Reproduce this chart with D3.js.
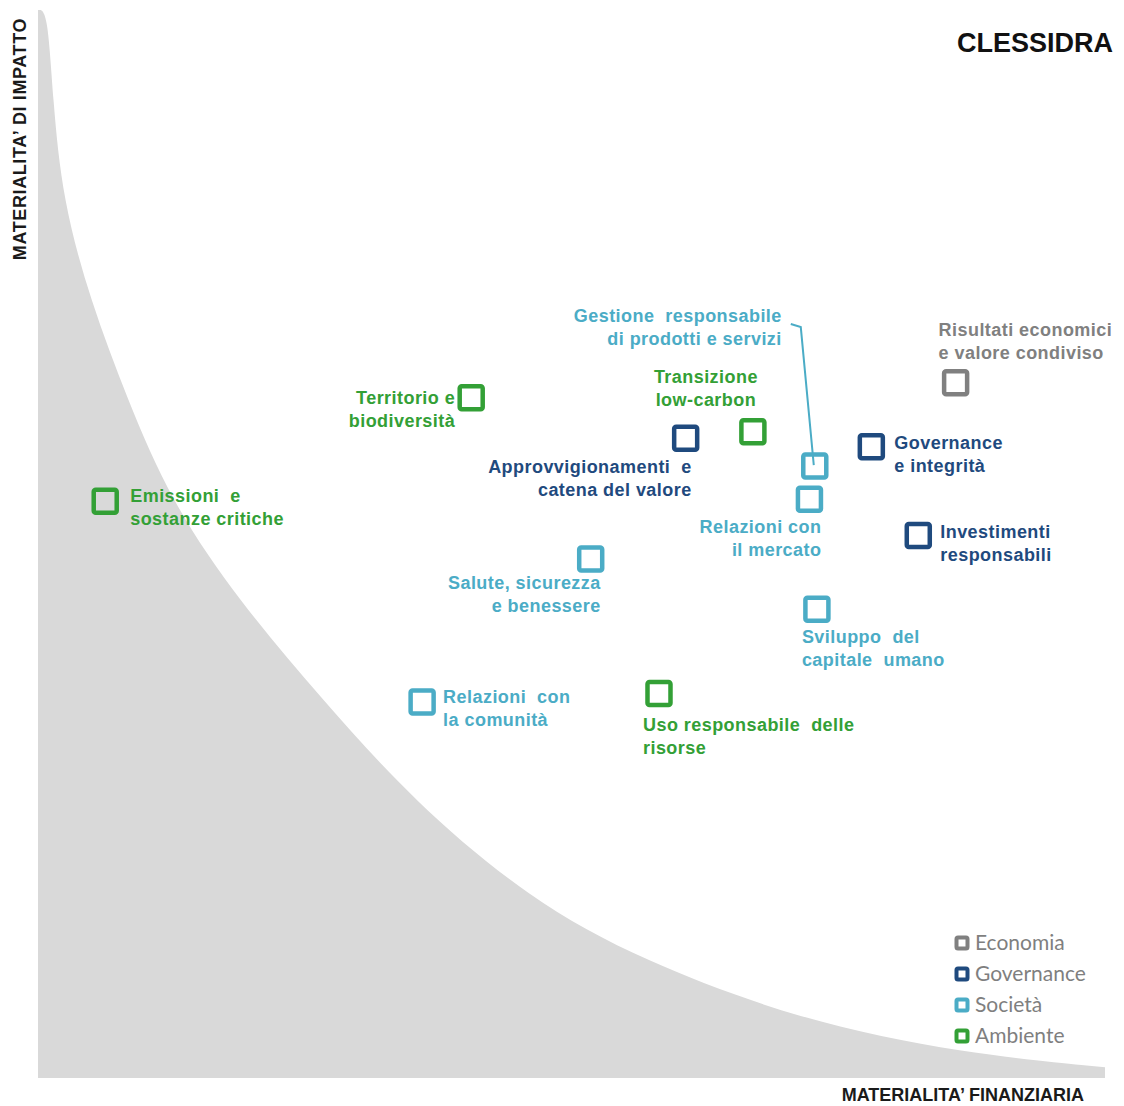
<!DOCTYPE html>
<html>
<head>
<meta charset="utf-8">
<script src="https://cdn.jsdelivr.net/npm/d3@7"></script>
<style>
  body { margin: 0; background: #fff; }
  svg { display: block; }
  .lbl { font-family: "Liberation Sans", Arial, sans-serif; font-weight: bold; font-size: 18px; letter-spacing: 0.45px; }
</style>
</head>
<body>
<div id="chart"></div>
<script>
const width = 1124;
const height = 1106;

// topics: financial materiality (x) and impact materiality (y), 0-100
const topics = [
  "Risultati economici e valore condiviso",
  "Governance e integrità",
  "Investimenti responsabili",
  "Approvvigionamenti e catena del valore",
  "Transizione low-carbon",
  "Territorio e biodiversità",
  "Emissioni e sostanze critiche",
  "Uso responsabile delle risorse",
  "Gestione responsabile di prodotti e servizi",
  "Relazioni con il mercato",
  "Salute, sicurezza e benessere",
  "Sviluppo del capitale umano",
  "Relazioni con la comunità"
];
const topicArea = ["Economia", "Governance", "Governance", "Governance", "Ambiente", "Ambiente",
  "Ambiente", "Ambiente", "Società", "Società", "Società", "Società", "Società"];
const financial = [86.0, 78.1, 82.5, 60.7, 67.0, 40.6, 6.3, 58.2, 72.8, 72.3, 51.8, 73.0, 36.0];
const impact    = [65.1, 59.1, 50.8, 59.9, 60.5, 63.7, 54.0, 36.0, 57.3, 54.2, 48.6, 43.9, 35.2];

// hourglass threshold curve
const curveX = [0, 0.9, 1.4, 2.3, 4.9, 8.4, 12.4, 18.7, 26.7, 35.1, 46.1, 56.6, 71.4, 86.7, 100];
const curveY = [100, 100, 91.6, 82.2, 72.8, 63.5, 54.1, 44.8, 35.4, 26.0, 16.7, 11.0, 5.4, 2.3, 1.0];

const areas = ["Economia", "Governance", "Società", "Ambiente"];
const areaColors = ["#808080", "#1f4a7e", "#4bacc6", "#33a036"];

// label layout: text lines, offset from marker, anchor
const labelLayout = {
  "Risultati economici e valore condiviso": { lines: ["Risultati economici", "e valore condiviso"], dx: -17, dy: -47, anchor: "start" },
  "Governance e integrità": { lines: ["Governance", "e integrità"], dx: 23, dy: 2, anchor: "start" },
  "Investimenti responsabili": { lines: ["Investimenti", "responsabili"], dx: 22, dy: 3, anchor: "start" },
  "Approvvigionamenti e catena del valore": { lines: ["Approvvigionamenti  e", "catena del valore"], dx: 6, dy: 35, anchor: "end" },
  "Transizione low-carbon": { lines: ["Transizione", "low-carbon"], dx: -47, dy: -49, anchor: "middle" },
  "Territorio e biodiversità": { lines: ["Territorio e", "biodiversità"], dx: -16, dy: 6, anchor: "end" },
  "Emissioni e sostanze critiche": { lines: ["Emissioni  e", "sostanze critiche"], dx: 25, dy: 1, anchor: "start" },
  "Uso responsabile delle risorse": { lines: ["Uso responsabile  delle", "risorse"], dx: -16, dy: 37, anchor: "start" },
  "Gestione responsabile di prodotti e servizi": { lines: ["Gestione  responsabile", "di prodotti e servizi"], dx: -33, dy: -144, anchor: "end", leader: true },
  "Relazioni con il mercato": { lines: ["Relazioni con", "il mercato"], dx: 12, dy: 34, anchor: "end" },
  "Salute, sicurezza e benessere": { lines: ["Salute, sicurezza", "e benessere"], dx: 10, dy: 30, anchor: "end" },
  "Sviluppo del capitale umano": { lines: ["Sviluppo  del", "capitale  umano"], dx: -15, dy: 34, anchor: "start" },
  "Relazioni con la comunità": { lines: ["Relazioni  con", "la comunità"], dx: 21, dy: 1, anchor: "start" }
};

const svg = d3.select("#chart")
  .append("svg")
  .attr("width", width)
  .attr("height", height);

const x = d3.scaleLinear().domain([0, 100]).range([38, 1105]);
const y = d3.scaleLinear().domain([0, 100]).range([1078, 10]);
const color = d3.scaleOrdinal().domain(areas).range(areaColors);

// grey area below the curve
const curvePts = curveX.map((v, i) => [v, curveY[i]]);
const area = d3.area()
  .x(d => x(d[0]))
  .y0(y(0))
  .y1(d => y(d[1]))
  .curve(d3.curveBasis);

svg.append("path")
  .datum(curvePts)
  .attr("d", area)
  .attr("fill", "#d9d9d9");

// axis titles
svg.append("text")
  .attr("class", "lbl")
  .attr("transform", `translate(26, ${y(100) + 8}) rotate(-90)`)
  .attr("text-anchor", "end")
  .attr("font-size", 16)
  .style("letter-spacing", "0.6px")
  .attr("fill", "#1a1a1a")
  .text("MATERIALITA’  DI  IMPATTO");

svg.append("text")
  .attr("class", "lbl")
  .attr("x", 1084)
  .attr("y", 1101)
  .attr("text-anchor", "end")
  .attr("font-size", 15)
  .style("letter-spacing", "0px")
  .attr("fill", "#1a1a1a")
  .text("MATERIALITA’  FINANZIARIA");

// title
svg.append("text")
  .attr("x", 1113)
  .attr("y", 52)
  .attr("text-anchor", "end")
  .attr("font-family", "Liberation Sans, Arial, sans-serif")
  .attr("font-weight", "bold")
  .attr("font-size", 27)
  .attr("fill", "#111")
  .text("CLESSIDRA");

const data = topics.map((t, i) => ({
  name: t, area: topicArea[i], fx: financial[i], iy: impact[i]
}));

// leader line for "Gestione responsabile..."
data.filter(d => labelLayout[d.name].leader).forEach(d => {
  const cx = x(d.fx), cy = y(d.iy), L = labelLayout[d.name];
  svg.append("path")
    .attr("d", d3.line()([[cx + L.dx + 9, cy + L.dy + 2], [cx + L.dx + 19, cy + L.dy + 5], [cx - 1, cy - 1]]))
    .attr("fill", "none")
    .attr("stroke", color(d.area))
    .attr("stroke-width", 2);
});

// markers
svg.selectAll("rect.marker")
  .data(data)
  .enter()
  .append("rect")
  .attr("class", "marker")
  .attr("x", d => x(d.fx) - 11.5)
  .attr("y", d => y(d.iy) - 11.5)
  .attr("width", 23)
  .attr("height", 23)
  .attr("rx", 2)
  .attr("fill", "none")
  .attr("stroke", d => color(d.area))
  .attr("stroke-width", 4.5);

// labels
const labels = svg.selectAll("text.topic")
  .data(data)
  .enter()
  .append("text")
  .attr("class", "lbl topic")
  .attr("fill", d => color(d.area))
  .attr("text-anchor", d => labelLayout[d.name].anchor)
  .attr("xml:space", "preserve")
  .style("white-space", "pre");

labels.selectAll("tspan")
  .data(d => labelLayout[d.name].lines.map((l, k) => ({ l, k, d })))
  .enter()
  .append("tspan")
  .attr("x", o => x(o.d.fx) + labelLayout[o.d.name].dx)
  .attr("y", o => y(o.d.iy) + labelLayout[o.d.name].dy + o.k * 23)
  .text(o => o.l);

// legend
const legend = svg.append("g").attr("transform", "translate(962, 943)");
const rows = legend.selectAll("g")
  .data(areas)
  .enter()
  .append("g")
  .attr("transform", (d, i) => `translate(0, ${i * 31})`);

rows.append("rect")
  .attr("x", -5.5)
  .attr("y", -5.5)
  .attr("width", 11)
  .attr("height", 11)
  .attr("rx", 1.5)
  .attr("fill", "#fff")
  .attr("stroke", d => color(d))
  .attr("stroke-width", 4);

rows.append("text")
  .attr("x", 13)
  .attr("y", 7)
  .attr("font-family", "Lato, 'Open Sans', sans-serif")
  .attr("font-size", 21)
  .attr("fill", "#7f7f7f")
  .text(d => d);
</script>
</body>
</html>
